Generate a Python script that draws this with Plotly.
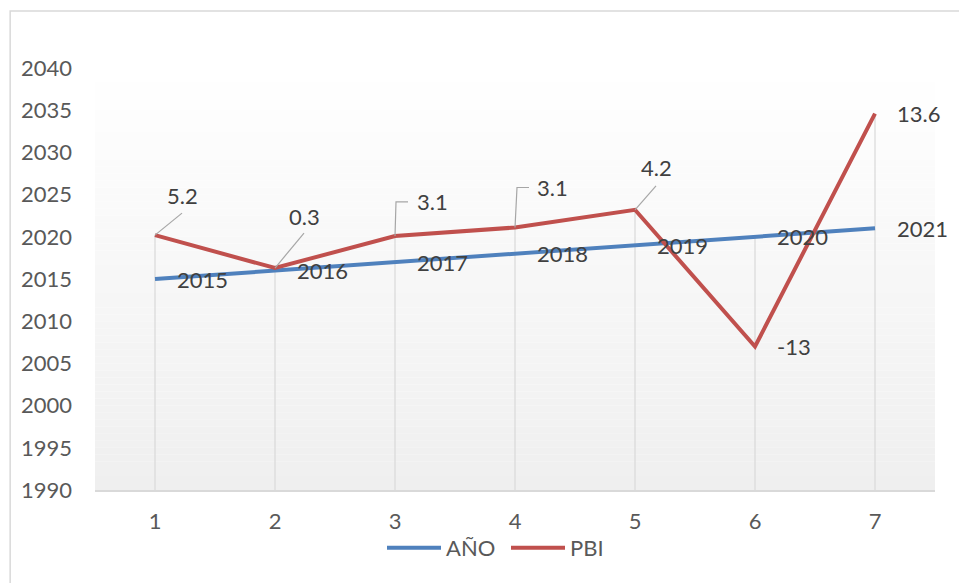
import plotly.graph_objects as go

# ---------------- data ----------------
categories = [1, 2, 3, 4, 5, 6, 7]
ano = [2015, 2016, 2017, 2018, 2019, 2020, 2021]
pbi = [5.2, 0.3, 3.1, 3.1, 4.2, -13, 13.6]
pbi_labels = ["5.2", "0.3", "3.1", "3.1", "4.2", "-13", "13.6"]
y_ticks = [1990, 1995, 2000, 2005, 2010, 2015, 2020, 2025, 2030, 2035, 2040]

# Excel "stacked line": PBI is drawn on top of AÑO
pbi_stacked = [a + p for a, p in zip(ano, pbi)]

# ---------------- styles ----------------
FONT = "Lato, 'Open Sans', sans-serif"
BLUE = "#4F81BD"
RED = "#C0504D"
GRID = "#d9d9d9"
TICK_COLOR = "#595959"
LABEL_COLOR = "#404040"
FS = 22
Y_MIN, Y_MAX = 1990, 2040

# label placement for PBI (pixel offsets; dy positive = up)
pbi_lab_dx = [27, 29, 37, 37, 21, 21, 21]
pbi_lab_dy = [40, 52, 34, 40, 42, 0, 0]
pbi_lab_anchor = ["center", "center", "center", "center", "center", "left", "left"]
pbi_leader = [
    "M0,0 L27,22",
    "M0,0 L29,35",
    "M0,0 L1,34 L13,34",
    "M0,0 L2,40 L14,40",
    "M0,0 L21,24",
    None,
    None,
]

fig = go.Figure()

# drop lines (from highest series value down to axis)
dx, dy = [], []
for c, a, s in zip(categories, ano, pbi_stacked):
    dx += [c, c, None]
    dy += [max(a, s), Y_MIN, None]
fig.add_trace(go.Scatter(x=dx, y=dy, mode="lines", line=dict(color=GRID, width=1.2),
                         hoverinfo="skip", showlegend=False))

fig.add_trace(go.Scatter(x=categories, y=ano, mode="lines", name="AÑO",
                         line=dict(color=BLUE, width=4)))
fig.add_trace(go.Scatter(x=categories, y=pbi_stacked, mode="lines", name="PBI",
                         line=dict(color=RED, width=4),
                         customdata=pbi, hovertemplate="%{customdata}<extra>PBI</extra>"))

annotations = []
shapes = []

# gradient plot background
n_bands = 60
for i in range(n_bands):
    g = round(239 + 16 * (i + 0.5) / n_bands)
    shapes.append(dict(type="rect", xref="x domain", yref="y domain",
                       x0=0, x1=1, y0=i / n_bands, y1=(i + 1) / n_bands,
                       fillcolor=f"rgb({g},{g},{g})", line=dict(width=0), layer="below"))

# chart border
shapes.append(dict(type="rect", xref="paper", yref="paper",
                   x0=-0.101, x1=1.5, y0=-0.6, y1=1.135,
                   line=dict(color="#d9d9d9", width=1.5), fillcolor="rgba(0,0,0,0)", layer="above"))

# AÑO labels
for c, a in zip(categories, ano):
    annotations.append(dict(x=c, y=a, text=str(a), showarrow=False,
                            xanchor="left", yanchor="middle", xshift=20,
                            font=dict(family=FONT, size=FS, color=LABEL_COLOR)))

# PBI labels + leader lines
for c, s, t, ddx, ddy, anc, path in zip(categories, pbi_stacked, pbi_labels,
                                         pbi_lab_dx, pbi_lab_dy, pbi_lab_anchor, pbi_leader):
    annotations.append(dict(x=c, y=s, text=t, showarrow=False,
                            xanchor=anc, yanchor="middle",
                            xshift=ddx if anc == "center" else ddx - 1, yshift=ddy,
                            font=dict(family=FONT, size=FS, color=LABEL_COLOR)))
    if path:
        shapes.append(dict(type="path", xref="x", yref="y",
                           xsizemode="pixel", ysizemode="pixel",
                           xanchor=c, yanchor=s, path=path,
                           line=dict(color="#a6a6a6", width=1.2), layer="above"))

fig.update_layout(
    width=959, height=583,
    margin=dict(l=95, r=24, t=68, b=93),
    paper_bgcolor="white", plot_bgcolor="white",
    font=dict(family=FONT, size=FS, color=TICK_COLOR),
    xaxis=dict(range=[0.5, 7.5], tickvals=categories, ticktext=[str(c) for c in categories],
               showgrid=False, zeroline=False, showline=True, linecolor=GRID, linewidth=1.5,
               ticks="", ticklabelstandoff=11, automargin=False,
               tickfont=dict(family=FONT, size=FS, color=TICK_COLOR)),
    yaxis=dict(range=[Y_MIN, Y_MAX], tickvals=y_ticks, showgrid=False, zeroline=False,
               showline=False, ticks="", ticklabelstandoff=22, automargin=False,
               tickfont=dict(family=FONT, size=FS, color=TICK_COLOR)),
    legend=dict(orientation="h", xref="container", yref="container",
                x=382 / 959, y=0.06, xanchor="left", yanchor="middle",
                itemwidth=54, entrywidth=55, entrywidthmode="pixels",
                font=dict(family=FONT, size=FS, color=TICK_COLOR),
                bgcolor="rgba(0,0,0,0)"),
    annotations=annotations,
    shapes=shapes,
)

fig.write_html("out.html", config={"displayModeBar": False},
               post_script="document.body.style.margin='0';document.body.style.overflow='hidden';")
